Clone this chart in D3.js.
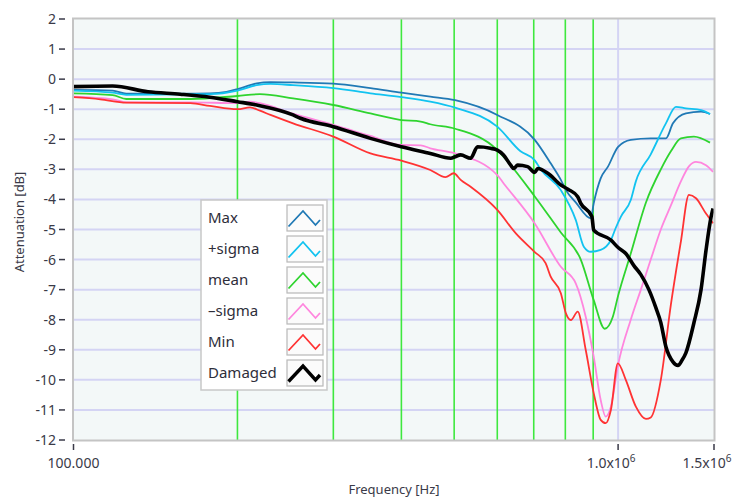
<!DOCTYPE html>
<html>
<head>
<meta charset="utf-8">
<script src="https://cdn.jsdelivr.net/npm/d3@7"></script>
<style>
  body { margin: 0; background: #fff; }
  svg { display: block; font-family: "Noto Sans", "Open Sans", sans-serif; }
</style>
</head>
<body>
<svg width="738" height="503"></svg>
<script>
// frequency in kHz, attenuation in dB
var maxData = [[100,-0.36],[118,-0.38],[125,-0.48],[157,-0.48],[178,-0.47],[191,-0.42],[200,-0.33],[211,-0.2],[217,-0.14],[230,-0.1],[253,-0.11],[300,-0.15],[351,-0.3],[400,-0.45],[452,-0.58],[502,-0.7],[600,-1.19],[703,-2.02],[752,-2.8],[785,-3.35],[802,-3.69],[836,-4.1],[891,-4.63],[902,-4.13],[929,-3.3],[958,-2.91],[1000,-2.25],[1055,-2.02],[1148,-1.97],[1224,-1.97],[1261,-1.47],[1332,-1.14],[1420,-1.08],[1475,-1.16]]

var plusSigmaData = [[100,-0.38],[118,-0.45],[125,-0.52],[178,-0.5],[200,-0.38],[217,-0.2],[230,-0.16],[253,-0.2],[300,-0.3],[351,-0.47],[400,-0.6],[452,-0.75],[502,-0.95],[600,-1.58],[662,-2.4],[703,-2.7],[721,-3.0],[785,-3.69],[836,-4.68],[865,-5.57],[891,-5.74],[929,-5.68],[970,-5.35],[990,-4.95],[1012,-4.57],[1055,-4.02],[1078,-3.4],[1148,-2.5],[1224,-1.47],[1277,-0.92],[1332,-0.97],[1420,-1.03],[1475,-1.16]]

var meanData = [[100,-0.47],[118,-0.53],[125,-0.66],[164,-0.66],[200,-0.56],[220,-0.5],[253,-0.64],[300,-0.86],[351,-1.14],[400,-1.36],[434,-1.41],[452,-1.5],[502,-1.65],[600,-2.36],[616,-2.58],[703,-3.9],[785,-5.1],[854,-6.0],[902,-7.35],[945,-8.3],[978,-7.9],[1000,-7.2],[1055,-5.8],[1125,-4.1],[1198,-3.0],[1250,-2.4],[1304,-1.97],[1378,-1.91],[1475,-2.11]]

var minusSigmaData = [[100,-0.58],[118,-0.67],[125,-0.77],[164,-0.77],[200,-0.8],[211,-0.75],[220,-0.8],[253,-1.15],[300,-1.52],[351,-1.89],[400,-2.19],[434,-2.2],[452,-2.3],[502,-2.47],[600,-3.19],[616,-3.46],[703,-4.8],[785,-6.24],[836,-6.79],[872,-7.9],[902,-9.23],[929,-10.67],[949,-11.22],[970,-10.89],[1000,-9.5],[1055,-8.0],[1101,-7.0],[1148,-6.0],[1198,-5.0],[1250,-4.2],[1304,-3.4],[1349,-2.9],[1390,-2.75],[1450,-2.86],[1494,-3.08]]

var minData = [[100,-0.6],[112,-0.67],[125,-0.78],[164,-0.8],[178,-0.89],[200,-1.0],[211,-0.94],[220,-1.05],[230,-1.19],[253,-1.47],[300,-1.91],[351,-2.47],[400,-2.71],[452,-3.02],[482,-3.26],[499,-3.13],[514,-3.35],[536,-3.58],[600,-4.35],[649,-5.13],[703,-5.75],[736,-6.12],[752,-6.57],[785,-7.12],[802,-7.79],[819,-8.01],[843,-7.73],[872,-9.0],[902,-10.44],[929,-11.33],[949,-11.44],[970,-11.0],[999,-9.45],[1033,-10.0],[1078,-10.89],[1125,-11.3],[1148,-11.25],[1198,-10.0],[1250,-7.5],[1304,-5.4],[1349,-3.85],[1390,-3.96],[1450,-4.47],[1494,-4.79]]

var damagedData = [[100,-0.25],[118,-0.23],[137,-0.42],[157,-0.5],[178,-0.6],[200,-0.75],[217,-0.86],[253,-1.19],[261,-1.3],[300,-1.58],[351,-1.97],[400,-2.25],[452,-2.47],[493,-2.63],[502,-2.58],[514,-2.52],[536,-2.63],[552,-2.25],[583,-2.3],[600,-2.36],[616,-2.52],[635,-2.86],[643,-2.97],[654,-2.86],[682,-2.91],[703,-3.1],[712,-2.97],[743,-3.13],[785,-3.52],[809,-3.66],[843,-3.91],[854,-4.13],[895,-4.57],[902,-5.02],[970,-5.35],[1000,-5.6],[1033,-5.8],[1069,-6.2],[1101,-6.5],[1139,-7.0],[1173,-7.6],[1198,-8.1],[1224,-8.9],[1261,-9.4],[1288,-9.52],[1310,-9.35],[1332,-9.1],[1378,-8.1],[1420,-7.0],[1450,-5.7],[1481,-4.6],[1494,-4.3]]

var seriesNames = ['Max', '+sigma', 'mean', '\u2013sigma', 'Min', 'Damaged']
var seriesColors = ['#2079b5', '#12c3f0', '#2fd42f', '#ff86de', '#ff3333', '#000000']
var seriesData = [maxData, plusSigmaData, meanData, minusSigmaData, minData, damagedData]

var yTicks = [2, 1, 0, -1, -2, -3, -4, -5, -6, -7, -8, -9, -10, -11, -12]
var minorFreqs = [200, 300, 400, 500, 600, 700, 800, 900]
var xTicks = [100, 1000, 1500]

var svg = d3.select('svg')

// plot area edges (top is a reserved window name, so use these)
var plotL = 73.5, plotR = 714, plotT = 19, plotB = 440

var x = d3.scaleLog().domain([100, 1500]).range([plotL, plotR])
var y = d3.scaleLinear().domain([-12, 2]).range([plotB, plotT])

// plot background
svg.append('rect')
    .attr('x', plotL).attr('y', plotT)
    .attr('width', plotR - plotL).attr('height', plotB - plotT)
    .attr('fill', '#f3f8f8')

// horizontal grid
svg.append('g')
    .selectAll('line')
    .data(yTicks.filter(function(d){ return d < 2 && d > -12 }))
    .join('line')
    .attr('x1', plotL).attr('x2', plotR)
    .attr('y1', function(d){ return y(d) })
    .attr('y2', function(d){ return y(d) })
    .attr('stroke', '#d4d4f4')
    .attr('stroke-width', 2)

// major vertical grid at 1e6
svg.append('line')
    .attr('x1', x(1000)).attr('x2', x(1000))
    .attr('y1', plotT).attr('y2', plotB)
    .attr('stroke', '#d4d4f4')
    .attr('stroke-width', 2)

// minor vertical grid in green
svg.append('g')
    .selectAll('line')
    .data(minorFreqs)
    .join('line')
    .attr('x1', function(d){ return x(d) })
    .attr('x2', function(d){ return x(d) })
    .attr('y1', plotT).attr('y2', plotB)
    .attr('stroke', '#3ee83e')
    .attr('stroke-width', 1.6)

// curves
var line = d3.line()
    .x(function(d){ return x(d[0]) })
    .y(function(d){ return y(d[1]) })
    .curve(d3.curveMonotoneX)

svg.append('g')
    .selectAll('path')
    .data(seriesData)
    .join('path')
    .attr('d', line)
    .attr('fill', 'none')
    .attr('stroke', function(d, i){ return seriesColors[i] })
    .attr('stroke-width', function(d, i){ return i == 5 ? 3.6 : 1.8 })
    .attr('stroke-linejoin', 'round')

// frame
svg.append('rect')
    .attr('x', plotL - 0.5).attr('y', plotT - 0.5)
    .attr('width', plotR - plotL + 1).attr('height', plotB - plotT + 1)
    .attr('fill', 'none')
    .attr('stroke', '#c4c4c4')
    .attr('stroke-width', 2)

// y axis labels
var yAxis = svg.append('g')
yAxis.selectAll('text')
    .data(yTicks)
    .join('text')
    .attr('x', 56)
    .attr('y', function(d){ return y(d) })
    .attr('dy', '0.36em')
    .attr('text-anchor', 'end')
    .attr('font-size', 14)
    .attr('fill', '#3a3a48')
    .text(function(d){ return d })
yAxis.selectAll('line')
    .data(yTicks)
    .join('line')
    .attr('x1', 59).attr('x2', 65)
    .attr('y1', function(d){ return y(d) })
    .attr('y2', function(d){ return y(d) })
    .attr('stroke', '#3a3a48')
    .attr('stroke-width', 1.5)

// x axis ticks
var xAxis = svg.append('g')
xAxis.selectAll('line')
    .data(xTicks)
    .join('line')
    .attr('x1', function(d){ return x(d) })
    .attr('x2', function(d){ return x(d) })
    .attr('y1', 444).attr('y2', 450)
    .attr('stroke', '#3a3a48')
    .attr('stroke-width', 1.5)

xAxis.append('text')
    .attr('x', x(100)).attr('y', 468)
    .attr('text-anchor', 'middle')
    .attr('font-size', 14)
    .attr('fill', '#3a3a48')
    .text('100.000')

xTicks.slice(1).forEach(function(d){
    var t = xAxis.append('text')
        .attr('x', x(d) - 7).attr('y', 468)
        .attr('text-anchor', 'middle')
        .attr('font-size', 14)
        .attr('fill', '#3a3a48')
    t.append('tspan').text((d / 1000).toFixed(1) + 'x10')
    t.append('tspan').attr('dy', -6).attr('font-size', 10).text('6')
})

// axis titles
svg.append('text')
    .attr('x', 394).attr('y', 494)
    .attr('text-anchor', 'middle')
    .attr('font-size', 13)
    .attr('fill', '#3a3a48')
    .text('Frequency [Hz]')

svg.append('text')
    .attr('transform', 'translate(24,222) rotate(-90)')
    .attr('text-anchor', 'middle')
    .attr('font-size', 13)
    .attr('fill', '#3a3a48')
    .text('Attenuation [dB]')

// legend
var legend = svg.append('g').attr('transform', 'translate(201,200)')
legend.append('rect')
    .attr('width', 126).attr('height', 190)
    .attr('fill', '#ffffff')
    .attr('stroke', '#c8c8c8')
    .attr('stroke-width', 1.5)

var rows = legend.selectAll('g')
    .data(seriesNames)
    .join('g')
    .attr('transform', function(d, i){ return 'translate(0,' + (18 + i * 31) + ')' })

rows.append('text')
    .attr('x', 7)
    .attr('dy', '0.35em')
    .attr('font-size', 15)
    .attr('fill', '#2e2e3a')
    .text(function(d){ return d })

rows.append('rect')
    .attr('x', 86).attr('y', -13)
    .attr('width', 36).attr('height', 26)
    .attr('fill', '#fbfbfb')
    .attr('stroke', '#b8b8b8')
    .attr('stroke-width', 1.2)

rows.append('polyline')
    .attr('points', '87.5,8.5 102,-7 114.5,7 119,2')
    .attr('fill', 'none')
    .attr('stroke', function(d, i){ return seriesColors[i] })
    .attr('stroke-width', function(d, i){ return i == 5 ? 3.4 : 1.8 })
</script>
</body>
</html>
